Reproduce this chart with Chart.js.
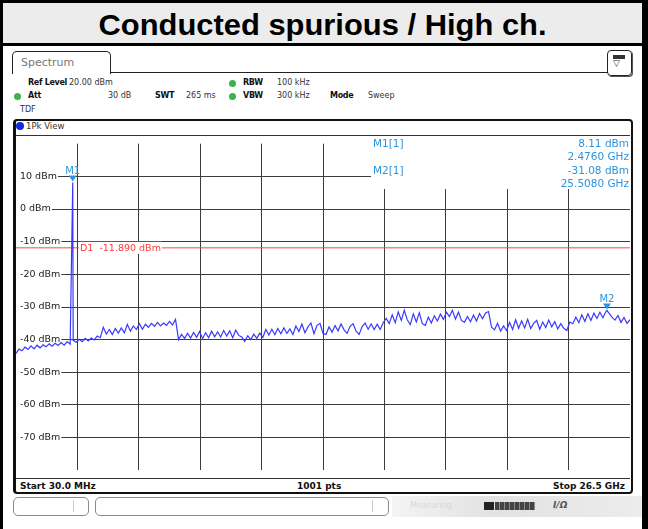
<!DOCTYPE html>
<html>
<head>
<meta charset="utf-8">
<script src="https://cdn.jsdelivr.net/npm/chart.js@4.4.0/dist/chart.umd.min.js"></script>
<style>
body { margin: 0; width: 648px; height: 529px; overflow: hidden; background: #fff; position: relative; font-family: "DejaVu Sans", sans-serif; }
.abs { position: absolute; white-space: nowrap; }
.info { font-size: 8px; color: #333; line-height: 10px; }
.info b { color: #111; letter-spacing: -0.3px; }
.dot { position: absolute; width: 7px; height: 7px; border-radius: 50%; background: #3cb34a; }
.mk { font-family: "DejaVu Sans", sans-serif; font-size: 10.5px; color: #2b95dc; line-height: 13px; }
.foot { font-size: 9px; font-weight: bold; color: #111; top: 480px; line-height: 12px; }
</style>
</head>
<body>
<!-- title band -->
<div class="abs" style="left:0;top:0;width:648px;height:3px;background:#000"></div>
<div class="abs" style="left:0;top:0;width:3px;height:529px;background:#000"></div>
<div class="abs" style="left:642px;top:0;width:6px;height:529px;background:#000"></div>
<div class="abs" style="left:3px;top:3px;width:639px;height:40px;background:#ececec"></div>
<div class="abs" style="left:0;top:43px;width:648px;height:3px;background:#000"></div>
<div class="abs" style="left:3px;top:7px;width:639px;text-align:center;font:bold 30px 'Liberation Sans',Arial,sans-serif;line-height:36px;color:#000;transform:scaleX(1.03)">Conducted spurious / High ch.</div>

<!-- spectrum tab -->
<div class="abs" style="left:12px;top:51px;width:97px;height:22px;border:1px solid #222;border-bottom:none;border-radius:5px 5px 0 0"></div>
<div class="abs" style="left:110px;top:72px;width:498px;height:1px;background:#222"></div>
<div class="abs" style="left:21px;top:56px;font-size:11px;color:#777">Spectrum</div>
<div class="abs" style="left:607px;top:50px;width:23px;height:24px;border:1px solid #222;border-radius:4px;box-shadow:1px 1px 0 #555"></div>
<div class="abs" style="left:613px;top:55px;width:12px;height:4px;background:#333"></div>
<div class="abs" style="left:613px;top:58px;font-size:9px;color:#333">▽</div>

<!-- setting rows -->
<div class="abs info" style="left:28px;top:78px"><b>Ref Level</b></div>
<div class="abs info" style="left:69px;top:78px">20.00 dBm</div>
<div class="dot" style="left:229px;top:80px"></div>
<div class="abs info" style="left:243px;top:78px"><b>RBW</b></div>
<div class="abs info" style="left:277px;top:78px">100 kHz</div>
<div class="dot" style="left:14px;top:93px"></div>
<div class="abs info" style="left:28px;top:91px"><b>Att</b></div>
<div class="abs info" style="left:108px;top:91px">30 dB</div>
<div class="abs info" style="left:155px;top:91px"><b>SWT</b></div>
<div class="abs info" style="left:186px;top:91px">265 ms</div>
<div class="dot" style="left:229px;top:93px"></div>
<div class="abs info" style="left:243px;top:91px"><b>VBW</b></div>
<div class="abs info" style="left:277px;top:91px">300 kHz</div>
<div class="abs info" style="left:330px;top:91px"><b>Mode</b></div>
<div class="abs info" style="left:368px;top:91px">Sweep</div>
<div class="abs info" style="left:20px;top:105px">TDF</div>

<!-- plot window frame -->
<div class="abs" style="left:13px;top:119px;width:615px;height:371px;border:2px solid #111;border-left-width:3px;border-radius:4px"></div>
<div class="abs" style="left:16px;top:135px;width:614px;height:1px;background:#333"></div>
<div class="abs" style="left:16px;top:478px;width:614px;height:1px;background:#333"></div>
<div class="abs" style="left:16px;top:122px;width:8px;height:8px;border-radius:50%;background:#1428e0"></div>
<div class="abs info" style="left:26px;top:121px;font-size:8.5px">1Pk View</div>

<canvas id="plot" class="abs" style="left:14px;top:134px" width="618" height="346"></canvas>

<!-- marker table -->
<div class="abs" style="left:371px;top:137px;width:259px;height:52px;background:#fff">
  <div class="abs mk" style="left:2px;top:0px">M1[1]</div>
  <div class="abs mk" style="right:1px;top:0px">8.11 dBm</div>
  <div class="abs mk" style="right:1px;top:13px">2.4760 GHz</div>
  <div class="abs mk" style="left:2px;top:27px">M2[1]</div>
  <div class="abs mk" style="right:1px;top:27px">-31.08 dBm</div>
  <div class="abs mk" style="right:1px;top:40px">25.5080 GHz</div>
</div>

<!-- footer of plot -->
<div class="abs foot" style="left:20px">Start 30.0 MHz</div>
<div class="abs foot" style="left:297px">1001 pts</div>
<div class="abs foot" style="right:23px">Stop 26.5 GHz</div>

<!-- status bar -->
<div class="abs" style="left:13px;top:497px;width:74px;height:17px;border:1px solid #8a8a8a;border-radius:5px"></div>
<div class="abs" style="left:73px;top:500px;width:1px;height:12px;background:#ccc"></div>
<div class="abs" style="left:95px;top:497px;width:292px;height:17px;border:1px solid #8a8a8a;border-radius:5px"></div>
<div class="abs" style="left:372px;top:500px;width:1px;height:12px;background:#ccc"></div>
<div class="abs" style="left:392px;top:496px;width:250px;height:21px;background:linear-gradient(to right,#f4f4f4,#e2e2e2 40%,#ececec)"></div>
<div class="abs" style="left:410px;top:501px;font-size:8px;color:#d8d8d8">Measuring...</div>
<div class="abs" style="left:484px;top:502px;width:10px;height:8px;background:#222"></div>
<div class="abs" style="left:495px;top:502px;width:40px;height:8px;background:repeating-linear-gradient(to right,#444 0 4px,#888 4px 5px)"></div>
<div class="abs" style="left:553px;top:500px;font:bold italic 9px 'DejaVu Sans';color:#555">I/Ω</div>

<script>
const START_GHZ = 0.03;
const STOP_GHZ = 26.5;

// trace level per sweep point, dBm
const traceDbm = [
  -44.2, -42.9, -43.4, -42.3, -43.0, -41.9, -42.8, -41.7, -42.5, -41.6,
  -42.2, -41.3, -42.0, -41.1, -41.8, -40.9, -41.7, -40.6, -41.4, -40.2,
  -40.8, -39.9, -40.6, -39.6, -40.4, -39.5, -40.1, -38.9, -39.4, -36.2,
  -38.3, -36.9, -38.4, -36.6, -38.0, -36.4, -37.9, -35.3, -37.4, -35.8,
  -36.9, -35.1, -36.8, -35.3, -36.2, -35.0, -35.9, -34.7, -35.8, -34.9,
  -35.6, -34.4, -35.5, -33.8, -40.0, -38.4, -39.6, -38.1, -39.5, -37.8,
  -39.3, -37.5, -39.7, -37.9, -39.4, -37.4, -39.1, -37.6, -39.2, -37.2,
  -38.9, -37.3, -39.4, -37.1, -38.7, -39.2, -40.5, -38.8, -40.0, -38.3,
  -39.6, -38.0, -39.3, -36.9, -38.6, -36.8, -38.5, -36.6, -38.2, -36.4,
  -38.1, -36.7, -38.4, -35.8, -37.5, -35.2, -37.9, -36.1, -34.9, -38.2,
  -35.6, -35.0, -38.1, -38.4, -36.1, -37.7, -35.7, -37.3, -35.2, -37.0,
  -38.1, -35.9, -35.1, -37.4, -38.4, -36.0, -34.9, -36.8, -35.2, -36.9,
  -35.3, -36.9, -34.8, -33.5, -35.1, -32.4, -34.8, -31.5, -34.1, -31.0,
  -33.9, -35.4, -32.1, -34.6, -31.8, -35.1, -35.6, -33.1, -34.9, -32.7,
  -34.3, -32.2, -33.8, -31.6, -32.9, -31.0, -33.7, -31.6, -34.1, -34.7,
  -32.9, -34.5, -32.5, -34.3, -32.0, -33.6, -31.8, -31.4, -36.2, -37.0,
  -35.0, -37.4, -35.8, -37.2, -34.7, -36.9, -33.9, -36.5, -34.2, -36.4,
  -33.8, -36.6, -35.0, -34.1, -36.8, -34.6, -36.3, -34.0, -36.1, -34.5,
  -36.7, -35.1, -36.5, -37.2, -34.6, -35.1, -33.1, -34.8, -32.4, -34.4,
  -32.1, -34.1, -31.9, -33.5, -31.6, -33.3, -31.4, -31.9, -33.1, -34.0,
  -32.6, -34.7, -33.2, -35.0, -33.9
];

const markerNames = ['M1', 'M2'];
const markerGHz = [2.476, 25.508];
const markerDbm = [8.11, -31.08];

const displayLineDbm = -11.89;
const displayLineLabel = 'D1  -11.890 dBm';

const xGridGHz = [2.677, 5.324, 7.971, 10.618, 13.265, 15.912, 18.559, 21.206, 23.853];
const yTicks = [10, 0, -10, -20, -30, -40, -50, -60, -70];
const yTickLabels = ['10 dBm', '0 dBm', '-10 dBm', '-20 dBm', '-30 dBm', '-40 dBm', '-50 dBm', '-60 dBm', '-70 dBm'];

// sweep points are evenly spaced from start to stop
const stepGHz = (STOP_GHZ - START_GHZ) / (traceDbm.length - 1);
const tracePts = traceDbm.map((v, i) => ({ x: START_GHZ + i * stepGHz, y: v }));
markerGHz.forEach((f, i) => tracePts.push({ x: f, y: markerDbm[i] }));
tracePts.sort((a, b) => a.x - b.x);

const markerPlugin = {
    id: 'markers',
    afterDatasetsDraw(chart) {
        const c = chart.ctx;
        const xs = chart.scales.x, ys = chart.scales.y;

        // display line label
        c.save();
        c.font = '9.5px "DejaVu Sans"';
        c.textBaseline = 'middle';
        const dy = ys.getPixelForValue(displayLineDbm);
        const lx = chart.chartArea.left + 64;
        const w = c.measureText(displayLineLabel).width;
        c.fillStyle = '#fff';
        c.fillRect(lx - 1, dy - 6, w + 2, 12);
        c.fillStyle = '#ff3b3b';
        c.fillText(displayLineLabel, lx, dy + 1);

        // marker triangles
        c.font = '10px "DejaVu Sans"';
        c.textAlign = 'center';
        c.textBaseline = 'alphabetic';
        markerNames.forEach((name, i) => {
            const px = xs.getPixelForValue(markerGHz[i]);
            const py = ys.getPixelForValue(markerDbm[i]);
            c.fillStyle = '#2b95dc';
            c.beginPath();
            c.moveTo(px - 4, py - 7);
            c.lineTo(px + 4, py - 7);
            c.lineTo(px, py - 1);
            c.closePath();
            c.fill();
            c.fillText(name, px, py - 9);
        });
        c.restore();
    }
};

const ctx = document.getElementById('plot').getContext('2d');
new Chart(ctx, {
    type: 'line',
    data: {
        datasets: [{
            data: tracePts,
            borderColor: '#3a3aff',
            borderWidth: 1.2,
            pointRadius: 0,
            tension: 0
        },
        {
            data: [{ x: START_GHZ, y: displayLineDbm }, { x: STOP_GHZ, y: displayLineDbm }],
            borderColor: '#ff4646',
            borderWidth: 1,
            pointRadius: 0
        }]
    },
    options: {
        responsive: false,
        animation: false,
        layout: { padding: { left: 2, right: 2, top: 2, bottom: 2 } },
        plugins: {
            legend: { display: false },
            tooltip: { enabled: false }
        },
        scales: {
            x: {
                type: 'linear',
                min: START_GHZ,
                max: STOP_GHZ,
                afterBuildTicks: s => { s.ticks = xGridGHz.map(v => ({ value: v })); },
                ticks: { display: false },
                grid: { color: '#3c3c3c', drawTicks: false },
                border: { display: false },
                afterFit: s => { s.height = 0; }
            },
            y: {
                min: -80,
                max: 20,
                afterBuildTicks: s => { s.ticks = yTicks.map(v => ({ value: v })); },
                ticks: {
                    mirror: true,
                    padding: 4,
                    callback: (v, i) => yTickLabels[i],
                    showLabelBackdrop: true,
                    backdropColor: '#fff',
                    backdropPadding: { left: 4, right: 1, top: 0, bottom: 0 },
                    color: '#222',
                    font: { family: 'DejaVu Sans', size: 9.5 }
                },
                grid: { color: '#3c3c3c', drawTicks: false },
                border: { display: false },
                afterFit: s => { s.width = 0; }
            }
        }
    },
    plugins: [markerPlugin]
});
</script>
</body>
</html>
